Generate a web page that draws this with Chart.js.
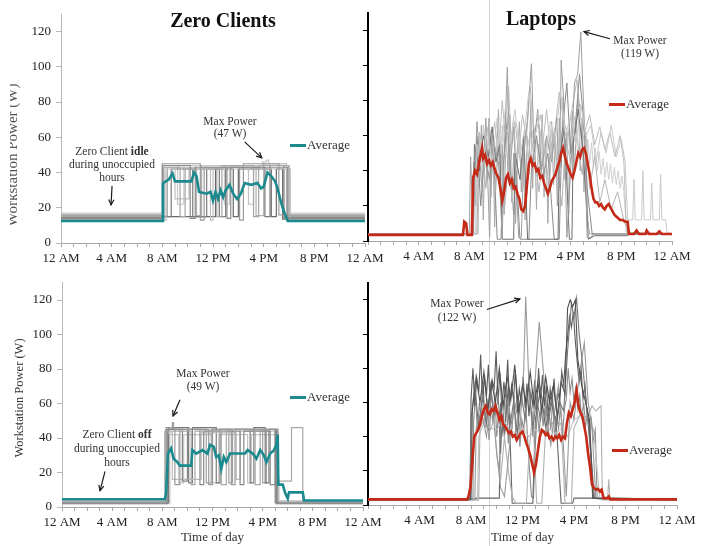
<!DOCTYPE html>
<html><head><meta charset="utf-8">
<script src="https://cdn.jsdelivr.net/npm/chart.js@4.4.1/dist/chart.umd.min.js"></script>
<style>
html,body{margin:0;padding:0;background:#fff;}
body{width:704px;height:546px;position:relative;overflow:hidden;font-family:"Liberation Serif","Times New Roman",serif;color:#222;}
canvas{position:absolute;}
.t{position:absolute;white-space:nowrap;font-size:11.5px;line-height:13px;text-align:center;color:#333;transform:translateX(-50%);z-index:5;}
.ttl{position:absolute;white-space:nowrap;font-size:20px;font-weight:bold;color:#111;transform:translate(-50%,-50%);z-index:5;}
.yt{position:absolute;white-space:nowrap;transform:translate(-50%,-50%) rotate(-90deg);z-index:5;}
.lg{position:absolute;font-size:13px;line-height:15px;color:#333;z-index:5;white-space:nowrap;}
.lg i{display:inline-block;width:16px;height:3px;vertical-align:middle;margin-right:1px;position:relative;top:-1px;}
</style></head><body>
<div style="position:absolute;left:489px;top:0;width:1px;height:546px;background:#d4d4d4;"></div>
<canvas id="tl" width="390" height="266" style="left:0;top:0;width:390px;height:266px"></canvas>
<canvas id="tr" width="364" height="266" style="left:340px;top:0;width:364px;height:266px"></canvas>
<canvas id="bl" width="390" height="276" style="left:0;top:270px;width:390px;height:276px"></canvas>
<canvas id="br" width="364" height="276" style="left:340px;top:270px;width:364px;height:276px"></canvas>

<div class="ttl" style="left:223px;top:20px">Zero Clients</div>
<div class="ttl" style="left:541px;top:18px">Laptops</div>

<div class="yt" style="left:12px;top:155px;font-size:15px;color:#555">Workstation Power (W)</div>
<div style="position:absolute;left:0;top:70px;width:10px;height:170px;background:#fff;z-index:6"></div>
<div class="yt" style="left:19px;top:398px;font-size:12.5px;color:#333">Workstation Power (W)</div>

<div class="t" style="left:230px;top:115px;line-height:12px">Max Power<br>(47 W)</div>
<div class="t" style="left:112px;top:145px">Zero Client <b>idle</b><br>during unoccupied<br>hours</div>
<div class="t" style="left:640px;top:34px">Max Power<br>(119 W)</div>
<div class="t" style="left:203px;top:367px">Max Power<br>(49 W)</div>
<div class="t" style="left:117px;top:427px;line-height:14px">Zero Client <b>off</b><br>during unoccupied<br>hours</div>
<div class="t" style="left:457px;top:296px;line-height:14px">Max Power<br>(122 W)</div>

<div class="lg" style="left:290px;top:137px"><i style="background:#1b8a8f"></i>Average</div>
<div class="lg" style="left:609px;top:96px"><i style="background:#c42a17"></i>Average</div>
<div class="lg" style="left:290px;top:389px"><i style="background:#1b8a8f"></i>Average</div>
<div class="lg" style="left:612px;top:442px"><i style="background:#c42a17"></i>Average</div>

<script>
// ---- tick labels / titles ----
const hourTickLabels = ['12 AM','4 AM','8 AM','12 PM','4 PM','8 PM','12 AM'];
const xAxisTitle = 'Time of day';

// ---- Zero clients, idle overnight (top-left) : [hour, W] ----
const zcIdleAvg = [[0,12.5],[8.0,12.5],[8.05,34],[8.5,36],[8.8,39.5],[9.0,35],[10.3,35],[10.5,40],[10.7,38],[10.9,29],[11.5,28],[11.8,29],[12.0,24],[12.2,29],[12.4,25],[12.6,30],[12.8,26],[13.0,30],[13.3,33],[13.6,28],[13.9,25],[14.2,28],[14.5,34],[15.0,33],[15.5,34],[15.8,31],[16.0,32],[16.3,40],[16.6,38],[16.9,35],[17.1,31],[17.3,25],[17.5,20],[17.7,16],[17.9,12.5],[24,12.5]];
const zcIdleDev1 = [[0,14],[8.0,44],[10.2,14],[10.6,43],[13.1,14],[13.4,43],[17.9,14],[24,14]];
const zcIdleDev2 = [[0,15],[8.1,43],[9.4,15],[9.8,42],[12.3,15],[12.7,44],[15.2,15],[15.6,44],[18.0,15],[24,15]];
const zcIdleDev3 = [[0,16],[8.0,45],[11.0,13],[11.3,43],[14.1,13],[14.4,45],[17.2,16],[24,16]];
const zcIdleDev4 = [[0,13],[8.3,42],[9.0,25],[10.1,42],[11.8,13],[12.0,42],[14.8,22],[15.2,42],[18.1,13],[24,13]];
const zcIdleDev5 = [[0,14.5],[8.0,15],[8.7,42],[10.4,15],[11.5,42],[12.5,15],[13.0,43],[16.1,15],[16.5,44],[17.6,14.5],[24,14.5]];
const zcIdleDev6 = [[0,17],[8.2,44],[9.2,22],[9.7,44],[12.9,22],[13.3,44],[15.9,46],[16.2,47],[16.4,44],[18.0,17],[24,17]];
const zcIdleDev7 = [[0,13.5],[8.1,15],[11.8,15],[12.2,42],[13.6,15],[14.0,42],[16.6,15],[17.0,42],[17.5,13.5],[24,13.5]];
const zcIdleDev8 = [[0,15.5],[8.4,43],[10.7,15.5],[11.1,44],[15.1,44],[15.4,15.5],[16.0,45],[17.8,15.5],[24,15.5]];

// ---- Zero clients, off overnight (bottom-left) ----
const zcOffAvg = [[0,4.5],[8.2,4.5],[8.3,8],[8.45,31],[8.7,34],[8.9,28],[9.2,26],[9.4,24],[10.3,24],[10.4,33],[10.7,31],[11.2,33],[11.6,31],[11.8,36],[12.1,35],[12.3,29],[12.5,30],[12.7,22],[12.9,29],[13.1,26],[13.4,31],[14.6,31],[14.8,33],[15.2,31],[15.5,28],[15.8,33],[16.1,30],[16.3,26],[16.6,31],[16.9,33],[17.1,36],[17.2,42],[17.25,13],[17.6,13],[17.8,8],[18.0,5],[18.1,8.5],[19.2,8.5],[19.3,3.8],[24,3.8]];
const zcOffDev1 = [[0,2.5],[8.3,46],[9.0,13],[9.4,45],[11.7,13],[12.0,45],[13.5,13],[13.8,45],[17.2,2.5],[24,2.5]];
const zcOffDev2 = [[0,3],[8.2,44],[10.3,13],[10.6,44],[12.7,13],[13.1,45],[15.4,13],[15.8,45],[17.2,15],[18.3,46],[19.2,3],[24,3]];
const zcOffDev3 = [[0,2],[8.4,45],[9.6,15],[10.0,45],[11.0,13],[11.3,44],[14.2,13],[14.5,44],[16.6,13],[17.0,45],[17.1,2],[24,2]];
const zcOffDev4 = [[0,3.5],[8.3,43],[8.8,16],[10.8,16],[11.1,43],[13.9,16],[14.2,44],[17.1,16],[17.3,3.5],[24,3.5]];
const zcOffDev5 = [[0,2.5],[8.5,46],[10.1,14],[10.4,46],[12.3,14],[12.6,45],[15.0,14],[15.3,46],[16.2,14],[16.5,45],[17.0,2.5],[24,2.5]];
const zcOffDev6 = [[0,3],[8.3,45],[8.8,49],[8.9,45],[11.5,14],[11.9,45],[13.3,14],[13.6,45],[16.0,14],[16.3,45],[17.2,3],[24,3]];
const zcOffDev7 = [[0,2],[8.6,42],[9.3,14],[9.7,42],[12.0,14],[12.5,42],[14.8,14],[15.1,42],[17.15,2],[24,2]];

// ---- Laptops, top ----
const lapTopAvg = [[0,3.5],[7.5,3.5],[7.6,11],[7.75,10],[7.85,3.5],[8.2,3.5],[8.3,36],[8.45,40],[8.6,38],[8.8,46],[9.0,53],[9.1,47],[9.25,49],[9.4,44],[9.55,46],[9.7,43],[9.85,45],[10.0,41],[10.15,38],[10.3,36],[10.45,30],[10.6,23],[10.75,28],[10.9,36],[11.05,38],[11.2,33],[11.35,35],[11.5,30],[11.65,31],[11.8,27],[11.95,24],[12.1,18],[12.25,17],[12.4,20],[12.55,32],[12.7,44],[12.85,47],[13.0,43],[13.15,44],[13.3,40],[13.45,41],[13.6,36],[13.75,37],[13.9,33],[14.05,30],[14.2,27],[14.35,30],[14.5,34],[14.65,36],[14.8,38],[14.95,42],[15.1,45],[15.25,50],[15.4,53],[15.55,48],[15.7,44],[15.85,41],[16.0,38],[16.15,36],[16.3,40],[16.45,45],[16.6,50],[16.75,48],[16.9,52],[17.05,53],[17.2,50],[17.35,44],[17.5,38],[17.65,30],[17.8,24],[17.95,22],[18.1,22],[18.25,20],[18.4,21],[18.55,19],[18.7,18],[18.85,20],[19.0,21],[19.15,19],[19.3,17],[19.45,15],[19.6,14],[19.75,13],[19.9,12],[20.1,12],[20.3,11],[20.5,11],[20.6,4],[21.0,4],[21.2,6],[21.4,4],[21.9,4],[22.0,6],[22.2,4],[22.8,4],[23.0,5.5],[23.2,4],[24,4]];
const lapTopDev1 = [[0,4],[8.5,4],[8.6,55],[9.0,40],[9.4,62],[9.8,45],[10.2,70],[10.5,50],[10.9,80],[11.2,55],[11.6,75],[12.0,48],[12.4,66],[12.7,85],[13.2,60],[13.6,72],[14.0,50],[14.4,68],[14.8,58],[15.2,85],[15.6,60],[16.0,72],[16.4,55],[16.8,78],[17.2,60],[17.6,66],[18.0,45],[18.4,62],[18.8,50],[19.2,66],[19.6,48],[20.0,58],[20.3,45],[20.5,12],[20.9,12],[21.0,35],[21.1,12],[21.6,12],[21.7,40],[21.8,12],[22.3,12],[22.4,33],[22.5,12],[23.0,12],[23.1,38],[23.2,12],[23.5,12],[23.6,5],[24,4]];
const lapTopDev2 = [[0,4],[8.0,4],[8.1,48],[8.3,4],[8.6,68],[9.0,30],[9.3,70],[9.6,2],[9.8,60],[10.3,45],[10.6,2],[10.75,50],[11.0,99],[11.2,40],[11.5,65],[11.9,2],[12.1,2],[12.3,50],[12.6,70],[12.9,101],[13.1,55],[13.4,75],[13.7,40],[14.1,60],[14.5,45],[14.9,70],[15.1,30],[15.25,103],[15.45,80],[15.7,2],[16.0,40],[16.3,90],[16.55,95],[16.8,119],[16.95,90],[17.1,65],[17.3,2],[17.6,2],[17.8,4],[24,4]];
const lapTopDev3 = [[0,4],[8.3,4],[8.4,55],[8.8,40],[9.1,60],[9.5,48],[9.8,65],[10.1,45],[10.4,55],[10.6,1],[11.5,1],[11.6,50],[12.0,35],[12.3,60],[12.6,1],[15.0,1],[15.1,45],[15.5,65],[15.9,1],[16.1,1],[16.2,55],[16.6,75],[17.0,50],[17.4,1],[17.9,3],[20.5,3],[20.6,4],[24,4]];
const lapTopDev4 = [[0,4],[8.6,4],[8.7,35],[9.0,55],[9.3,30],[9.7,58],[10.0,25],[10.4,60],[10.8,20],[11.1,45],[11.5,15],[11.8,55],[12.2,38],[12.5,20],[12.8,62],[13.2,45],[13.5,28],[13.9,55],[14.3,30],[14.6,62],[15.0,40],[15.3,20],[15.6,58],[16.0,45],[16.4,65],[16.9,38],[17.2,62],[17.5,30],[17.9,48],[18.3,22],[18.7,35],[19.2,18],[19.7,28],[20.2,12],[20.6,4],[24,4]];
const lapTopDev5 = [[0,4],[8.2,4],[8.3,30],[8.6,60],[8.9,20],[9.2,50],[9.6,35],[9.9,55],[10.2,1],[10.5,1],[10.7,45],[11.0,70],[11.3,30],[11.7,40],[12.0,1],[12.7,1],[12.9,40],[13.3,60],[13.8,35],[14.2,50],[14.7,1],[15.1,1],[15.3,60],[15.7,90],[16.0,50],[16.3,60],[16.7,95],[17.0,70],[17.3,30],[17.7,4],[24,4]];
const lapTopDev6 = [[0,4],[8.7,4],[8.8,62],[9.1,50],[9.4,65],[9.7,52],[10.0,68],[10.3,48],[10.6,80],[10.8,62],[11.1,88],[11.3,55],[11.6,68],[11.9,50],[12.2,72],[12.5,58],[12.8,88],[13.1,60],[13.4,70],[13.8,55],[14.1,75],[14.4,52],[14.8,66],[15.1,85],[15.4,70],[15.8,60],[16.1,75],[16.5,92],[16.8,70],[17.1,62],[17.5,72],[17.9,55],[18.3,65],[18.7,52],[19.1,62],[19.5,48],[19.9,60],[20.2,45],[20.4,5],[24,4]];
const lapTopDev7 = [[0,4],[8.6,4],[8.65,50],[8.8,62],[8.95,48],[9.1,66],[9.25,52],[9.4,58],[9.55,44],[9.7,63],[9.85,50],[10.0,57],[10.15,41],[10.3,60],[10.45,47],[10.6,66],[10.75,53],[10.9,49],[11.05,62],[11.2,45],[11.35,58],[11.5,70],[11.65,52],[11.8,47],[11.95,60],[12.1,43],[12.25,55],[12.4,64],[12.55,50],[12.7,58],[12.85,46],[13.0,63],[13.15,51],[13.3,57],[13.45,44],[13.6,61],[13.75,49],[13.9,56],[14.05,42],[14.2,59],[14.35,48],[14.5,66],[14.65,53],[14.8,58],[14.95,45],[15.1,62],[15.25,50],[15.4,67],[15.55,54],[15.7,48],[15.85,61],[16.0,46],[16.15,58],[16.3,71],[16.45,55],[16.6,49],[16.75,63],[16.9,52],[17.05,60],[17.2,47],[17.35,58],[17.5,44],[17.65,56],[17.8,42],[17.95,53],[18.1,40],[18.25,51],[18.4,38],[18.55,47],[18.7,36],[18.85,45],[19.0,35],[19.15,44],[19.3,33],[19.45,42],[19.6,32],[19.75,40],[19.9,30],[20.05,37],[20.2,28],[20.35,12],[20.5,4],[24,4]];
const lapTopDev8 = [[0,4],[8.3,4],[8.35,45],[8.5,20],[8.65,58],[8.8,30],[8.95,66],[9.1,12],[9.25,55],[9.4,35],[9.55,70],[9.7,25],[9.85,60],[10.0,8],[10.15,48],[10.3,75],[10.45,30],[10.6,55],[10.75,15],[10.9,62],[11.05,40],[11.2,72],[11.35,22],[11.5,50],[11.65,10],[11.8,45],[11.95,68],[12.1,28],[12.25,58],[12.4,12],[12.55,60],[12.7,38],[12.85,78],[13.0,30],[13.15,64],[13.3,18],[13.45,55],[13.6,40],[13.75,72],[13.9,25],[14.05,58],[14.2,10],[14.35,52],[14.5,68],[14.65,32],[14.8,60],[14.95,20],[15.1,70],[15.25,42],[15.4,82],[15.55,35],[15.7,62],[15.85,15],[16.0,58],[16.15,74],[16.3,38],[16.45,66],[16.6,84],[16.75,40],[16.9,70],[17.05,28],[17.2,55],[17.35,12],[17.5,4],[24,4]];

// ---- Laptops, bottom ----
const lapBotAvg = [[0,3.3],[7.7,3.3],[7.8,5],[7.95,10],[8.1,25],[8.25,40],[8.4,42],[8.55,44],[8.7,47],[8.85,52],[9.0,56],[9.15,58],[9.3,54],[9.45,53],[9.6,56],[9.75,55],[9.9,58],[10.05,54],[10.2,50],[10.35,52],[10.5,47],[10.65,46],[10.8,44],[10.95,42],[11.1,43],[11.25,40],[11.4,41],[11.55,38],[11.7,40],[11.85,42],[12.0,43],[12.15,40],[12.3,36],[12.45,33],[12.6,29],[12.75,24],[12.9,19],[13.05,24],[13.2,32],[13.35,40],[13.5,44],[13.65,43],[13.8,41],[13.95,42],[14.1,39],[14.25,40],[14.4,38],[14.55,40],[14.7,39],[14.85,41],[15.0,38],[15.15,40],[15.3,39],[15.45,48],[15.6,54],[15.75,52],[15.9,56],[16.05,60],[16.2,67],[16.35,58],[16.5,54],[16.65,52],[16.8,46],[16.95,40],[17.1,30],[17.25,22],[17.4,12],[17.55,10],[17.7,9],[17.85,9.5],[18.0,8],[18.15,9],[18.3,4],[18.6,4],[18.7,5],[18.8,3.3],[24,3.3]];
const lapBotDev1 = [[0,3.5],[8.0,3.5],[8.1,55],[8.4,75],[8.7,60],[9.0,78],[9.3,55],[9.6,72],[9.9,60],[10.2,80],[10.5,58],[10.8,75],[11.1,62],[11.4,82],[11.7,55],[12.0,70],[12.3,60],[12.6,78],[12.9,58],[13.2,72],[13.5,55],[13.8,75],[14.1,60],[14.4,70],[14.7,52],[15.0,72],[15.3,65],[15.5,115],[15.7,120],[15.9,116],[16.1,120],[16.3,85],[16.6,70],[16.9,60],[17.2,50],[17.5,4],[24,3.5]];
const lapBotDev2 = [[0,3],[7.9,3],[8.0,50],[8.3,70],[8.6,45],[8.9,65],[9.2,48],[9.5,70],[9.8,52],[10.1,62],[10.4,40],[10.7,68],[11.0,45],[11.3,60],[11.6,42],[11.9,65],[12.2,50],[12.5,70],[12.8,45],[13.1,62],[13.4,50],[13.7,68],[14.0,48],[14.3,62],[14.6,45],[14.9,60],[15.2,55],[15.5,90],[15.8,118],[16.0,110],[16.2,121],[16.4,100],[16.7,80],[17.0,55],[17.3,30],[17.6,4],[24,3]];
const lapBotDev3 = [[0,3.5],[8.3,3.5],[8.4,45],[8.8,55],[9.2,40],[9.6,65],[10.0,30],[10.3,10],[10.6,5],[11.0,35],[11.4,60],[11.8,45],[12.1,80],[12.25,122],[12.5,70],[12.8,40],[13.0,75],[13.3,107],[13.6,80],[13.9,50],[14.2,35],[14.5,55],[14.8,70],[15.1,45],[15.4,5],[15.7,60],[16.0,50],[16.4,75],[16.8,95],[17.1,60],[17.4,45],[17.7,4],[24,3.5]];
const lapBotDev4 = [[0,3],[8.6,3],[8.7,45],[9.0,50],[9.4,42],[9.8,50],[10.0,30],[10.3,15],[10.6,40],[10.9,20],[11.2,5],[11.5,1],[12.3,1],[12.5,30],[12.8,55],[13.1,1],[13.5,1],[13.8,45],[14.2,50],[14.5,45],[15.0,48],[15.3,1],[15.8,1],[16.0,45],[16.6,55],[17.0,50],[17.4,58],[17.7,55],[18.1,58],[18.2,3],[18.6,3],[18.7,15],[18.8,3],[24,3]];
const lapBotDev5 = [[0,3],[8.5,3],[8.6,40],[9.0,48],[9.5,45],[10.0,44],[10.5,50],[11.0,44],[11.5,42],[12.0,45],[12.5,40],[13.0,44],[13.5,42],[14.0,45],[14.5,42],[15.0,44],[15.5,40],[16.0,50],[16.5,52],[17.0,48],[17.5,45],[18.0,4],[24,3]];
const lapBotDev6 = [[0,3.5],[8.3,3.5],[8.4,4],[10.2,4],[10.3,60],[10.6,40],[10.9,70],[11.2,1],[12.8,1],[13.0,50],[13.4,68],[13.8,45],[14.2,60],[14.6,50],[15.0,1],[15.9,1],[16.0,4],[17.6,4],[18.0,3.5],[24,3.5]];
const lapBotDev7 = [[0,3.5],[7.95,3.5],[8.0,62],[8.15,80],[8.3,58],[8.45,74],[8.6,66],[8.75,88],[8.9,60],[9.05,76],[9.2,64],[9.35,82],[9.5,57],[9.65,73],[9.8,68],[9.95,90],[10.1,61],[10.25,77],[10.4,55],[10.55,72],[10.7,63],[10.85,85],[11.0,58],[11.15,70],[11.3,62],[11.45,79],[11.6,54],[11.75,68],[11.9,60],[12.05,75],[12.2,57],[12.35,71],[12.5,52],[12.65,66],[12.8,58],[12.95,73],[13.1,55],[13.25,80],[13.4,62],[13.55,76],[13.7,58],[13.85,70],[14.0,52],[14.15,68],[14.3,60],[14.45,74],[14.6,56],[14.75,66],[14.9,61],[15.05,78],[15.2,70],[15.35,88],[15.5,98],[15.65,110],[15.8,104],[15.95,113],[16.1,96],[16.25,84],[16.4,72],[16.55,80],[16.7,62],[16.85,70],[17.0,55],[17.15,48],[17.3,30],[17.45,4],[24,3.5]];
const lapBotDev8 = [[0,3],[8.15,3],[8.2,48],[8.35,65],[8.5,42],[8.65,60],[8.8,50],[8.95,72],[9.1,45],[9.25,62],[9.4,38],[9.55,58],[9.7,48],[9.85,66],[10.0,40],[10.15,55],[10.3,30],[10.45,50],[10.6,44],[10.75,62],[10.9,36],[11.05,52],[11.2,46],[11.35,64],[11.5,40],[11.65,56],[11.8,34],[11.95,50],[12.1,44],[12.25,60],[12.4,38],[12.55,20],[12.7,5],[12.85,4],[13.0,35],[13.15,55],[13.3,42],[13.45,60],[13.6,46],[13.75,58],[13.9,40],[14.05,54],[14.2,44],[14.35,62],[14.5,38],[14.65,52],[14.8,45],[14.95,58],[15.1,40],[15.25,56],[15.4,62],[15.55,80],[15.7,66],[15.85,74],[16.0,60],[16.15,70],[16.3,56],[16.45,64],[16.6,50],[16.75,60],[16.9,46],[17.05,55],[17.2,42],[17.35,50],[17.5,38],[17.65,44],[17.8,4],[24,3]];

const TEAL = '#1b8a8f', RED = '#c42a17';

Chart.defaults.font.family = "'Liberation Serif','Times New Roman',serif";
Chart.defaults.font.size = 13;
Chart.defaults.color = '#222';

function arrowPlugin(list) {
  return {
    id: 'arrows',
    afterDatasetsDraw(chart) {
      const {ctx, scales: {x, y}} = chart;
      list.forEach(a => {
        const x1 = x.getPixelForValue(a.from[0]), y1 = y.getPixelForValue(a.from[1]);
        const x2 = x.getPixelForValue(a.to[0]), y2 = y.getPixelForValue(a.to[1]);
        ctx.save();
        ctx.strokeStyle = '#1a1a1a'; ctx.lineWidth = 1.2;
        ctx.beginPath(); ctx.moveTo(x1, y1); ctx.lineTo(x2, y2); ctx.stroke();
        const ang = Math.atan2(y2 - y1, x2 - x1), L = 6;
        ctx.beginPath();
        ctx.moveTo(x2 - L * Math.cos(ang - 0.45), y2 - L * Math.sin(ang - 0.45));
        ctx.lineTo(x2, y2);
        ctx.lineTo(x2 - L * Math.cos(ang + 0.45), y2 - L * Math.sin(ang + 0.45));
        ctx.stroke();
        ctx.restore();
      });
    }
  };
}

function avgSet(data, color) {
  return {data, borderColor: color, borderWidth: 2.6, order: 0, pointRadius: 0, tension: 0};
}
function devSet(data, color, stepped, w) {
  return {data, borderColor: color, borderWidth: w || 1.2, order: 1, pointRadius: 0, tension: 0, stepped: stepped};
}

function panel(id, cfg) {
  return new Chart(document.getElementById(id), {
    type: 'line',
    data: {datasets: cfg.datasets},
    options: {
      responsive: false, animation: false, events: [],
      layout: {autoPadding: false, padding: {left: 0, right: cfg.padR, top: cfg.padT, bottom: 0}},
      plugins: {legend: {display: false}, tooltip: {enabled: false}},
      scales: {
        x: {
          type: 'linear', min: 0, max: 24,
          afterFit: s => { s.height = cfg.xH; },
          border: {display: true, color: '#a8a8a8', width: 1},
          grid: {drawOnChartArea: false, drawTicks: true, tickLength: 4, tickColor: '#a8a8a8'},
          ticks: {stepSize: 1, autoSkip: false, maxRotation: 0, minRotation: 0, padding: 4, color: '#222',
            callback: v => { const r = Math.round(v); return (r % 4 === 0 && !(cfg.hideFirst && r === 0)) ? hourTickLabels[r / 4] : ''; }},
          title: cfg.xTitle ? {display: true, text: xAxisTitle, color: '#333', font: {size: 13}, padding: {top: 0, bottom: 1}} : {display: false}
        },
        y: {
          type: 'linear', min: 0, max: 130,
          afterFit: s => { s.width = cfg.yW; },
          afterBuildTicks: s => { s.ticks = s.ticks.filter(t => t.value <= 120); },
          border: {display: true, color: cfg.yColor, width: cfg.yWidth},
          grid: {drawOnChartArea: false, drawTicks: true, tickLength: 5, tickColor: cfg.yColor},
          ticks: {stepSize: 20, padding: 5, color: '#222', callback: v => cfg.yLabels ? v : ''}
        }
      }
    },
    plugins: [arrowPlugin(cfg.arrows)]
  });
}

panel('tl', {
  padR: 25, padT: 14, xH: 23, yW: 61, yColor: '#b8b8b8', yWidth: 1, yLabels: true, hideFirst: false, xTitle: false,
  arrows: [{from: [14.5, 57.4], to: [15.85, 48.3]}, {from: [4.03, 32.4], to: [3.95, 21.6]}],
  datasets: [
    avgSet(zcIdleAvg, TEAL),
    devSet(zcIdleDev1, '#8c8c8c', true), devSet(zcIdleDev2, '#a6a6a6', true),
    devSet(zcIdleDev3, '#9a9a9a', true), devSet(zcIdleDev4, '#bfbfbf', true),
    devSet(zcIdleDev5, '#7a7a7a', true), devSet(zcIdleDev6, '#c8c8c8', true),
    devSet(zcIdleDev7, '#686868', true), devSet(zcIdleDev8, '#b0b0b0', true)
  ]
});

panel('tr', {
  padR: 32, padT: 12, xH: 25, yW: 28, yColor: '#000', yWidth: 2, yLabels: false, hideFirst: true, xTitle: false,
  arrows: [{from: [19.1, 115.2], to: [17.05, 119.3]}],
  datasets: [
    avgSet(lapTopAvg, RED),
    devSet(lapTopDev1, '#c9c9c9', false, 1), devSet(lapTopDev2, '#9e9e9e', false, 1),
    devSet(lapTopDev3, '#6e6e6e', false, 1), devSet(lapTopDev4, '#b4b4b4', false, 1),
    devSet(lapTopDev5, '#8a8a8a', false, 1), devSet(lapTopDev6, '#bdbdbd', false, 1),
    devSet(lapTopDev7, '#cfcfcf', false, 1), devSet(lapTopDev8, '#a8a8a8', false, 1)
  ]
});

panel('bl', {
  padR: 27, padT: 3, xH: 39, yW: 62, yColor: '#b8b8b8', yWidth: 1, yLabels: true, hideFirst: false, xTitle: true,
  arrows: [{from: [9.41, 62.2], to: [8.85, 52.8]}, {from: [3.43, 20.6], to: [3.03, 9.4]}],
  datasets: [
    avgSet(zcOffAvg, TEAL),
    devSet(zcOffDev1, '#9a9a9a', true), devSet(zcOffDev2, '#a8a8a8', true),
    devSet(zcOffDev3, '#888888', true), devSet(zcOffDev4, '#bdbdbd', true),
    devSet(zcOffDev5, '#7a7a7a', true), devSet(zcOffDev6, '#a0a0a0', true),
    devSet(zcOffDev7, '#c4c4c4', true)
  ]
});

panel('br', {
  padR: 27, padT: 3, xH: 41, yW: 28, yColor: '#000', yWidth: 2, yLabels: false, hideFirst: true, xTitle: true,
  arrows: [{from: [9.24, 114.4], to: [11.8, 120.6]}],
  datasets: [
    avgSet(lapBotAvg, RED),
    devSet(lapBotDev1, '#4f4f4f', false, 1.1), devSet(lapBotDev2, '#767676', false, 1.1),
    devSet(lapBotDev3, '#9a9a9a', false, 1.1), devSet(lapBotDev4, '#b0b0b0', false, 1.1),
    devSet(lapBotDev5, '#c2c2c2', false, 1.1), devSet(lapBotDev6, '#666666', false, 1.1),
    devSet(lapBotDev7, '#5c5c5c', false, 1.1), devSet(lapBotDev8, '#8c8c8c', false, 1.1)
  ]
});
</script>
</body></html>
